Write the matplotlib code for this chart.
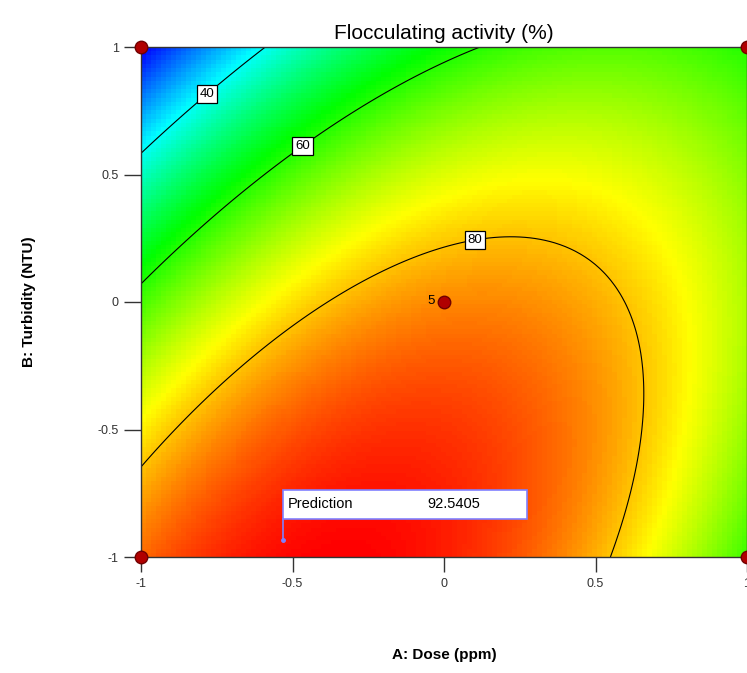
import matplotlib.pyplot as plt
import numpy as np
from matplotlib.colors import LinearSegmentedColormap
from matplotlib.patches import Rectangle

plt.rcParams["font.family"] = ["Liberation Sans", "DejaVu Sans"]

# Quadratic response-surface model in coded units:
# Y = b0 + a1*A + a2*B + a12*A*B + a11*A^2 + a22*B^2
COEF_NAMES = ["b0", "A", "B", "AB", "A2", "B2"]
COEF_VALUES = [84.1, 3.8, -17.1, 16.0, -17.9, -9.1]

CONTOUR_LEVELS = [40, 60, 80]
LABEL_POS = [(-0.80, 0.84), (-0.48, 0.635), (0.10, 0.26)]

# design points (coded) and replicate count at the centre
DESIGN_A = [-1, -1, 1, 1, 0]
DESIGN_B = [1, -1, 1, -1, 0]
CENTER_REPS = 5

# prediction flag
PRED_A, PRED_B = -0.531, -0.933
PRED_VALUE = 92.5405

TICKS = [-1, -0.5, 0, 0.5, 1]
TICK_LABELS = ["-1", "-0.5", "0", "0.5", "1"]

coef = dict(zip(COEF_NAMES, COEF_VALUES))


def response(a, b):
    return (coef["b0"] + coef["A"] * a + coef["B"] * b + coef["AB"] * a * b
            + coef["A2"] * a ** 2 + coef["B2"] * b ** 2)


grid = np.linspace(-1, 1, 121)
AA, BB = np.meshgrid(grid, grid)
ZZ = response(AA, BB)

cmap = LinearSegmentedColormap.from_list(
    "dx", ["#0000ff", "#00ffff", "#00ff00", "#ffff00", "#ff0000"])

fig = plt.figure(figsize=(7.47, 6.73), dpi=100)
ax = fig.add_axes([141 / 747, 116 / 673, 606 / 747, 510 / 673])

ax.imshow(ZZ, origin="lower", extent=(-1, 1, -1, 1), cmap=cmap,
          vmin=ZZ.min(), vmax=ZZ.max(), aspect="auto", interpolation="nearest")

cs = ax.contour(AA, BB, ZZ, levels=CONTOUR_LEVELS, colors="black", linewidths=0.8)
labels = ax.clabel(cs, fmt="%d", fontsize=9.5, manual=LABEL_POS, inline=True,
                   inline_spacing=2)
for t in labels:
    t.set_rotation(0)
    t.set_bbox(dict(facecolor="white", edgecolor="black", pad=2.2, linewidth=0.9))

# design points
ax.plot(DESIGN_A, DESIGN_B, "o", color="#b00000", markeredgecolor="#700000",
        markersize=9, clip_on=False, zorder=5)
ax.text(-0.03, 0.005, str(CENTER_REPS), ha="right", va="center", fontsize=9.5, zorder=5)

# prediction flag
box_left, box_right = PRED_A, 0.274
box_bottom, box_top = -0.851, -0.737
ax.add_patch(Rectangle((box_left, box_bottom), box_right - box_left, box_top - box_bottom,
                       facecolor="white", edgecolor="#8080ff", linewidth=1.2, zorder=6))
ax.plot([PRED_A, PRED_A], [box_bottom, PRED_B], color="#8080ff", lw=1.2, zorder=6)
ax.plot(PRED_A, PRED_B, "o", color="#8080ff", markersize=2.5, zorder=6)
ax.text(box_left + 0.015, (box_top + box_bottom) / 2, "Prediction", ha="left",
        va="center", fontsize=10.5, zorder=7)
ax.text(-0.055, (box_top + box_bottom) / 2, f"{PRED_VALUE:.4f}", ha="left",
        va="center", fontsize=10.5, zorder=7)

ax.set_xlim(-1, 1)
ax.set_ylim(-1, 1)
ax.set_xticks(TICKS)
ax.set_xticklabels(TICK_LABELS)
ax.set_yticks(TICKS)
ax.set_yticklabels(TICK_LABELS)
ax.tick_params(axis="both", direction="out", length=12, width=1, color="#333333",
               labelsize=9, labelcolor="#333333", pad=4)
ax.tick_params(axis="x", length=11)
for s in ax.spines.values():
    s.set_color("#333333")
    s.set_linewidth(1)

ax.set_title("Flocculating activity (%)", fontsize=15, pad=6)
ax.set_xlabel("A: Dose (ppm)", fontsize=11, fontweight="bold", labelpad=42)
ax.set_ylabel("B: Turbidity (NTU)", fontsize=11, fontweight="bold", labelpad=44)

fig.savefig("out.png", dpi=100)
